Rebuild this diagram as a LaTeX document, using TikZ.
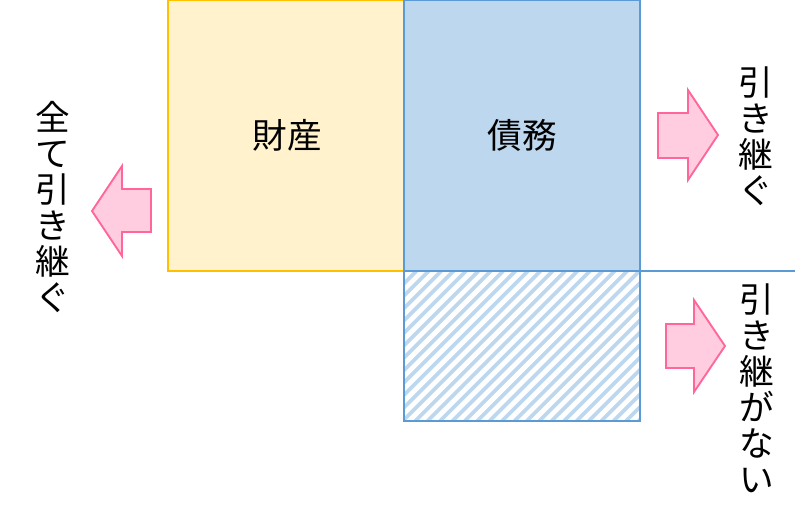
\documentclass[tikz,border=0pt]{standalone}
\usepackage{fontspec}
\setmainfont{Noto Sans CJK JP}
\definecolor{yelfill}{HTML}{FFF2CC}
\definecolor{yeldraw}{HTML}{FFC000}
\definecolor{bluefill}{HTML}{BDD7EE}
\definecolor{bluedraw}{HTML}{5B9BD5}
\definecolor{pinkfill}{HTML}{FFCCE0}
\definecolor{pinkdraw}{HTML}{FF6699}
\tikzset{
  assetbox/.style={fill=yelfill, draw=yeldraw, line width=0.8pt},
  debtbox/.style={fill=bluefill, draw=bluedraw, line width=0.9pt},
  hatchline/.style={draw=bluefill, line width=2.8pt},
  blockarrow/.style={fill=pinkfill, draw=pinkdraw, line width=1.4pt, line join=miter},
  boxlabel/.style={inner sep=0pt, font=\fontsize{26pt}{30pt}\selectfont},
  vlabel/.style={inner sep=0pt, align=center, font=\fontsize{26pt}{27pt}\selectfont}
}
\begin{document}
\begin{tikzpicture}[x=0.75pt,y=-0.75pt]
\useasboundingbox (0,0) rectangle (797,518);
% boxes
\draw[assetbox] (168,0.5) rectangle (404,271);
\draw[debtbox] (404,0.5) rectangle (640,271);
\begin{scope}
  \clip (404,271) rectangle (640,421);
  \foreach \k in {0,...,36} {
    \draw[hatchline] ({404-150+\k*12.4},421) -- ++(150,-150);
  }
\end{scope}
\draw[draw=bluedraw, line width=0.9pt] (404,271) rectangle (640,421);
\coordinate (lineend) at (795,271);
\coordinate (linestart) at (640,271);
\draw[draw=bluedraw, line width=0.9pt] (linestart) -- (lineend);
% labels in boxes
\node[boxlabel] (asset) at (287,135) {財産};
\node[boxlabel] (debt) at (522,135) {債務};
% arrows
\draw[blockarrow] (151,189) -- (122,189) -- (122,166) -- (92,211) -- (122,256) -- (122,232) -- (151,232) -- cycle;
\draw[blockarrow] (658,113) -- (688,113) -- (688,90) -- (718,135) -- (688,180) -- (688,158) -- (658,158) -- cycle;
\draw[blockarrow] (666,324) -- (694,324) -- (694,300) -- (725,346) -- (694,392) -- (694,368) -- (666,368) -- cycle;
% vertical labels
\node[vlabel] (all) at (53,207) {全\\て\\引\\き\\継\\ぐ};
\node[vlabel] (take) at (756,136) {引\\き\\継\\ぐ};
\node[vlabel] (nottake) at (757,388) {引\\き\\継\\が\\な\\い};
\end{tikzpicture}
\end{document}
